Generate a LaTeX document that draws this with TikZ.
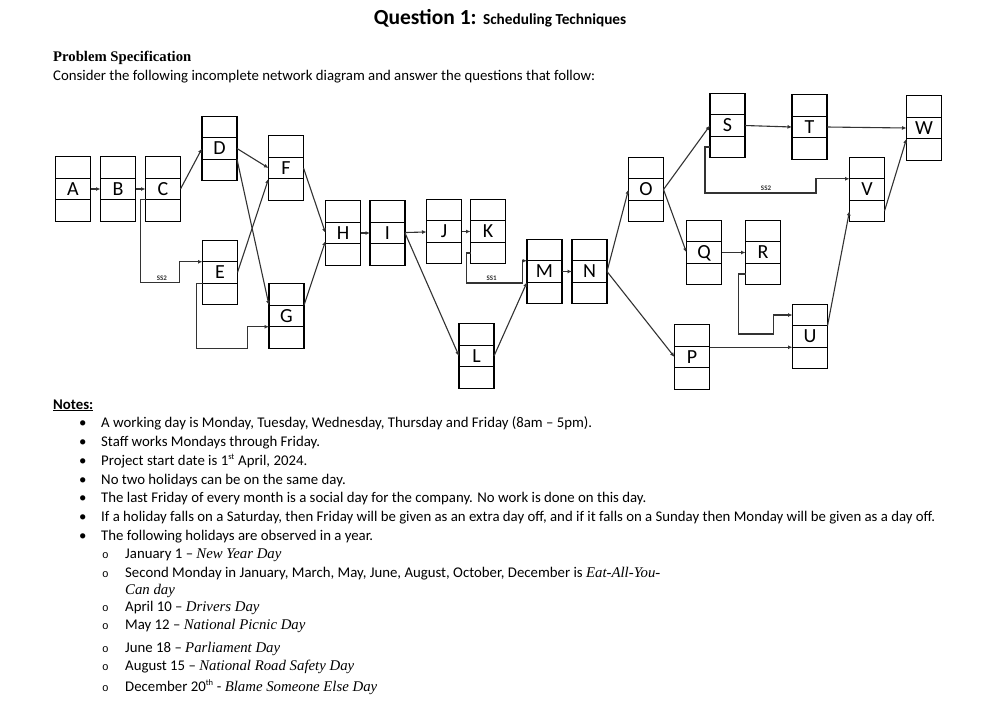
\documentclass[tikz,border=0pt]{standalone}
\usepackage{fontspec}
\setmainfont{Carlito}
\newfontfamily\timesfont{Liberation Serif}
\newfontfamily\ringfont{Liberation Mono}
\usetikzlibrary{arrows.meta}
\usetikzlibrary{positioning}
\tikzset{
  cell/.style={draw,line width=1.2pt,outer sep=0pt,inner sep=0pt,
    minimum width=35pt,minimum height=21.5pt,text height=12.5pt,text depth=0pt,
    font=\fontsize{20}{20}\selectfont},
  link/.style={draw=black!80,line width=1.1pt,-{Latex[length=4.5pt,width=4pt]}},
  sslabel/.style={font=\fontsize{7}{7}\selectfont\bfseries,text=black!80,inner sep=1.5pt},
  body/.style={anchor=base west,inner sep=0pt,font=\fontsize{14.8}{16}\selectfont},
  ring/.style={anchor=base west,inner sep=0pt,font=\ringfont\fontsize{11}{12}\selectfont},
}
\newcommand{\actbox}[3]{%
  \node[cell] (#1) at (#2,#3) {#1};
  \node[cell,above=0pt of #1] (#1t) {};
  \node[cell,below=0pt of #1] (#1b) {};
}
\newcommand{\hday}[1]{{\timesfont\itshape #1}}
\newcommand{\ord}[1]{\textsuperscript{\fontsize{8.5}{8.5}\selectfont #1}}

\begin{document}
\begin{tikzpicture}[x=1pt,y=-1pt]
\useasboundingbox (0,0) rectangle (998,702);

% heading
\node[anchor=base,inner sep=0pt] (title) at (500,24)
  {\fontsize{21.5}{22}\selectfont\bfseries Question 1: \fontsize{15.3}{16}\selectfont Scheduling Techniques};
\node[body,font={\timesfont\bfseries\fontsize{14.7}{16}\selectfont}] (spec) at (53,61) {Problem Specification};
\node[body] (intro) at (53,80) {Consider the following incomplete network diagram and answer the questions that follow:};

% activities
\actbox{A}{73}{189}
\actbox{B}{118}{189}
\actbox{C}{163}{189}
\actbox{D}{219.5}{148.5}
\actbox{E}{220}{272.5}
\actbox{F}{286}{168}
\actbox{G}{286.5}{316}
\actbox{H}{343}{233}
\actbox{I}{387.5}{233}
\actbox{J}{444}{231.5}
\actbox{K}{488}{231.5}
\actbox{L}{476.5}{356}
\actbox{M}{544.5}{271.5}
\actbox{N}{589.5}{271.5}
\actbox{O}{646}{189.5}
\actbox{P}{692}{357}
\actbox{Q}{704}{252.5}
\actbox{R}{763}{252.5}
\actbox{S}{727.5}{125.5}
\actbox{T}{809.5}{127}
\actbox{U}{810}{336.5}
\actbox{V}{867}{189.5}
\actbox{W}{924}{128}

% finish-to-start links
\draw[link] (A) -- (B);
\draw[link] (B) -- (C);
\draw[link] (C.east) -- (D.west);
\draw[link] (D.east) -- (F.west);
\draw[link] (D.south east) -- (G.north west);
\draw[link] (E.east) -- (F.south west);
\draw[link] (F.east) -- (H.west);
\draw[link] (G.north east) -- ([yshift=-8pt]H.west);
\draw[link] (H) -- (I);
\draw[link] (I) -- (J);
\draw[link] (J) -- (K);
\draw[link] (I.east) -- (L.west);
\draw[link] (L.east) -- (M.south west);
\draw[link] (M) -- (N);
\draw[link] (N.east) -- (O.west);
\draw[link] (N.east) -- (P.west);
\draw[link] (O.east) -- (S.west);
\draw[link] (O.east) -- (Q.west);
\draw[link] (S.east) -- (T.west);
\draw[link] (T.east) -- (W.west);
\draw[link] (Q) -- (R);
\draw[link] (U.south west -| P.east) -- (U.south west);
\draw[link] (U.north east) -- (Vb.west);
\draw[link] (Vb.east) -- (W.south west);

% start-to-start links
\draw[link] (C.south west) -- ++(-5,0) -- ++(0,83)
  -- node[sslabel,above,pos=0.55] {SS2} ++(39,0) |- (E.north west);
\draw[link] (E.south west) -- ++(-6,0) -- ++(0,65) -- ++(51,0) |- (G.south west);
\draw[link] (Kb.west) -- ++(-4,0) -- ++(0,30)
  -- node[sslabel,above,pos=0.45] {SS1} ++(56,0) |- (M.north west);
\draw[link] (Sb.west) -- ++(-5,0) -- ++(0,46)
  -- node[sslabel,above,pos=0.55] {SS2} ++(111,0) |- (V.north west);
\draw[link] (Rb.west) -- ++(-7,0) -- ++(0,60) -- ++(35,0) |- (Ut.west);

% notes
\node[body,font={\fontsize{14.8}{16}\selectfont\bfseries}] (notes) at (53,409) {\underline{Notes:}};
\node[body] (d1) at (79,427) {\textbullet};
\node[body] (n1) at (101,427) {A working day is Monday, Tuesday, Wednesday, Thursday and Friday (8am – 5pm).};
\node[body] (d2) at (79,446) {\textbullet};
\node[body] (n2) at (101,446) {Staff works Mondays through Friday.};
\node[body] (d3) at (79,465) {\textbullet};
\node[body] (n3) at (101,465) {Project start date is 1\ord{st} April, 2024.};
\node[body] (d4) at (79,484) {\textbullet};
\node[body] (n4) at (101,484) {No two holidays can be on the same day.};
\node[body] (d5) at (79,502) {\textbullet};
\node[body] (n5) at (101,502) {The last Friday of every month is a social day for the company. No work is done on this day.};
\node[body] (d6) at (79,521) {\textbullet};
\node[body] (n6) at (101,521) {If a holiday falls on a Saturday, then Friday will be given as an extra day off, and if it falls on a Sunday then Monday will be given as a day off.};
\node[body] (d7) at (79,540) {\textbullet};
\node[body] (n7) at (101,540) {The following holidays are observed in a year.};

% holidays
\node[ring] (o1) at (102,558) {o};
\node[body] (h1) at (125,558) {January 1 – \hday{New Year Day}};
\node[ring] (o2) at (102,577) {o};
\node[body] (h2) at (125,577) {Second Monday in January, March, May, June, August, October, December is \hday{Eat-All-You-}};
\node[body] (h2b) at (125,594) {\hday{Can day}};
\node[ring] (o3) at (102,611) {o};
\node[body] (h3) at (125,611) {April 10 – \hday{Drivers Day}};
\node[ring] (o4) at (102,629) {o};
\node[body] (h4) at (125,629) {May 12 – \hday{National Picnic Day}};
\node[ring] (o5) at (102,652) {o};
\node[body] (h5) at (125,652) {June 18 – \hday{Parliament Day}};
\node[ring] (o6) at (102,670) {o};
\node[body] (h6) at (125,670) {August 15 – \hday{National Road Safety Day}};
\node[ring] (o7) at (102,691) {o};
\node[body] (h7) at (125,691) {December 20\ord{th} - \hday{Blame Someone Else Day}};
\end{tikzpicture}
\end{document}
